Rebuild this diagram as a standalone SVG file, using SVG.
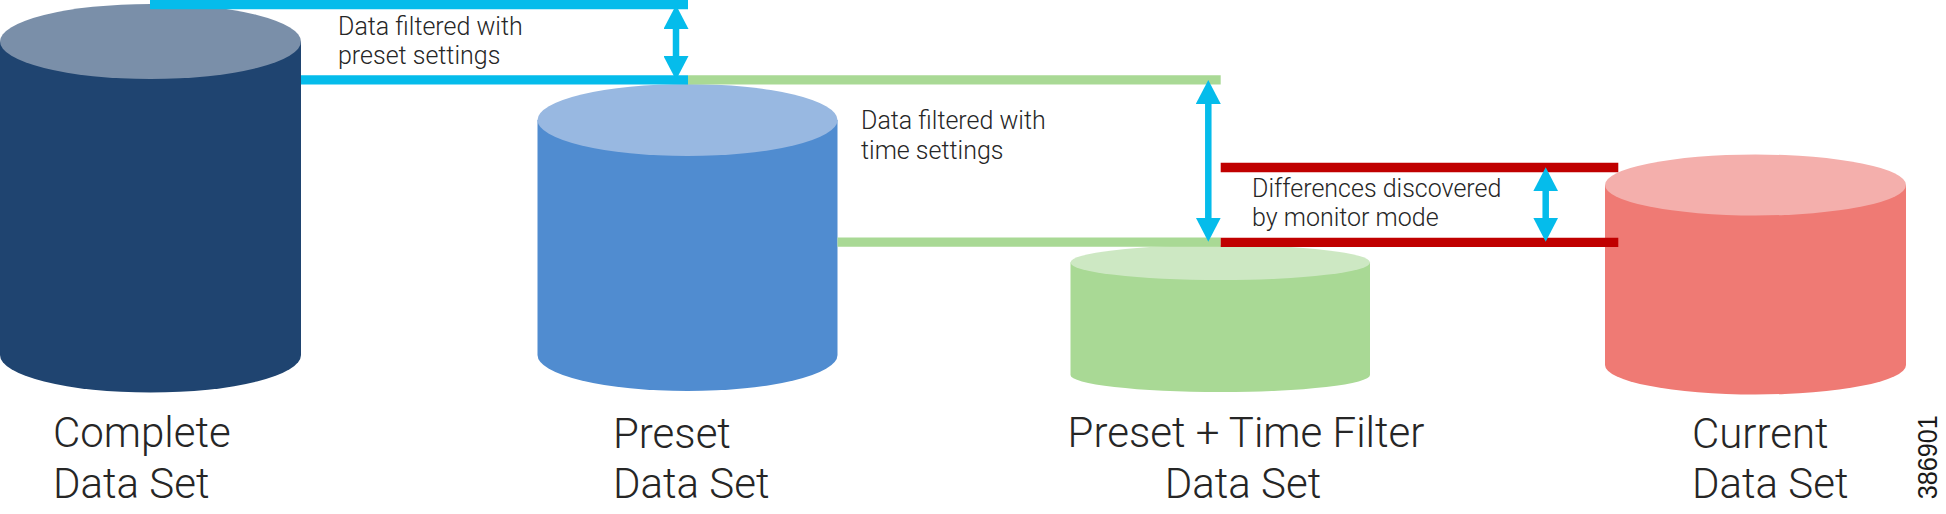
<svg xmlns="http://www.w3.org/2000/svg" width="1946" height="514" viewBox="0 0 1946 514">
<style>
.lbl{font-family:Roboto,"Liberation Sans",sans-serif;font-weight:300;fill:#262626}
.big{font-size:42px}
.small{font-size:25px}
.blue{stroke:#05BCEB;stroke-width:9.3;fill:none}
.green{stroke:#A9D995;stroke-width:9.2;fill:none}
.red{stroke:#C00000;stroke-width:9.4;fill:none}
.arr{stroke:#05BCEB;stroke-width:6.5;fill:none;marker-start:url(#ah);marker-end:url(#ah)}
</style>
<defs>
<marker id="ah" viewBox="0 0 24 25" refX="12" refY="12.5" markerWidth="24" markerHeight="25" markerUnits="userSpaceOnUse" orient="auto-start-reverse">
<path d="M0,0 L24,12.5 L0,25 Z" fill="#05BCEB"/>
</marker>
</defs>
<rect width="1946" height="514" fill="#FFFFFF"/>
<g id="complete">
<path d="M0,41.5 L0,355 A150.5,37.5 0 0 0 301,355 L301,41.5 Z" fill="#1F4470"/>
<ellipse cx="150.5" cy="41.5" rx="150.5" ry="37.5" fill="#7A8FA9"/>
<text class="lbl big" x="53" y="447">Complete</text>
<text class="lbl big" x="53" y="498">Data Set</text>
</g>
<g id="preset">
<path d="M537.5,120 L537.5,355 A150,36 0 0 0 837.5,355 L837.5,120 Z" fill="#508CD0"/>
<ellipse cx="687.5" cy="120" rx="150" ry="36" fill="#98B8E1"/>
<text class="lbl big" x="613" y="448">Preset</text>
<text class="lbl big" x="613" y="498">Data Set</text>
</g>
<g id="preset-time">
<path d="M1070.5,262.5 L1070.5,375 A149.75,17 0 0 0 1370,375 L1370,262.5 Z" fill="#A9D995"/>
<ellipse cx="1220.25" cy="262.5" rx="149.75" ry="17.5" fill="#CDE8C3"/>
<text class="lbl big" x="1246" y="447" text-anchor="middle">Preset + Time Filter</text>
<text class="lbl big" x="1243" y="498" text-anchor="middle">Data Set</text>
</g>
<g id="current">
<path d="M1605,185 L1605,365 A150.5,29.5 0 0 0 1906,365 L1906,185 Z" fill="#EF7A74"/>
<ellipse cx="1755.5" cy="185" rx="150.5" ry="30.5" fill="#F4AFAC"/>
<text class="lbl big" x="1692" y="448">Current</text>
<text class="lbl big" x="1692" y="498">Data Set</text>
</g>
<g id="connectors">
<line class="blue" x1="150" y1="4.65" x2="688" y2="4.65"/>
<line class="blue" x1="301" y1="79.8" x2="688" y2="79.8"/>
<line class="green" x1="688" y1="79.8" x2="1220.7" y2="79.8"/>
<line class="green" x1="837.5" y1="242.2" x2="1220.7" y2="242.2"/>
<line class="red" x1="1220.7" y1="167.5" x2="1618.3" y2="167.5"/>
<line class="red" x1="1220.7" y1="242.4" x2="1618.3" y2="242.4"/>
<line class="arr" x1="676" y1="17" x2="676" y2="68"/>
<line class="arr" x1="1208.3" y1="92" x2="1208.3" y2="229.7"/>
<line class="arr" x1="1545.7" y1="179.3" x2="1545.7" y2="229.7"/>
</g>
<g id="notes">
<text class="lbl small" x="338" y="35">Data filtered with</text>
<text class="lbl small" x="338" y="64">preset settings</text>
<text class="lbl small" x="861" y="129">Data filtered with</text>
<text class="lbl small" x="861" y="158.5">time settings</text>
<text class="lbl small" x="1252" y="196.7">Differences discovered</text>
<text class="lbl small" x="1252" y="226">by monitor mode</text>
</g>
<text transform="translate(1937,499.3) rotate(-90)" font-family="'Liberation Sans',Arial,sans-serif" font-size="27" fill="#1A1A1A" textLength="84" lengthAdjust="spacingAndGlyphs">386901</text>
</svg>
